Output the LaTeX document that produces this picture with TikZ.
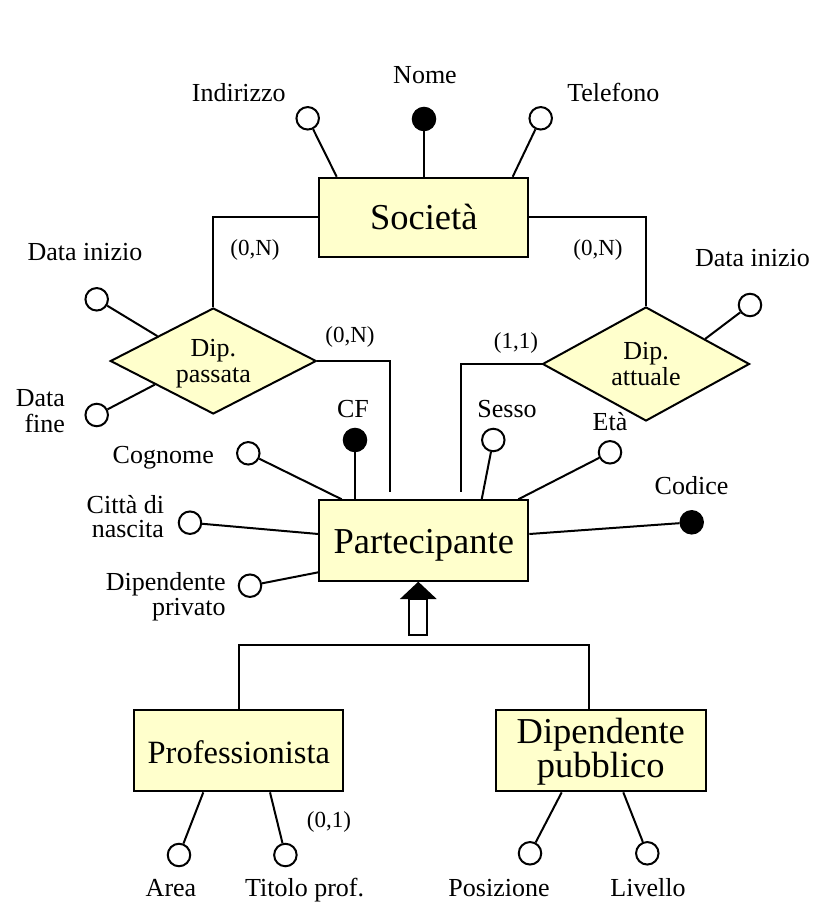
\documentclass[tikz,border=0pt]{standalone}
\usepackage{fontspec}
\setmainfont{Liberation Serif}
\usetikzlibrary{shapes.geometric}
\definecolor{entfill}{RGB}{255,255,204}
\tikzset{
  ent/.style={draw, fill=entfill, rectangle, inner sep=0pt,
    minimum width=209pt, minimum height=79.3pt,
    text height=25pt, text depth=0pt,
    font=\fontsize{36.5}{36.5}\selectfont},
  rel/.style={draw, fill=entfill, diamond, aspect=1.9, inner sep=0pt,
    minimum width=206pt, minimum height=106pt,
    text height=10pt, text depth=20pt,
    font=\fontsize{26}{26}\selectfont},
  attr/.style={draw, fill=white, circle, inner sep=0pt, minimum size=22.5pt},
  keyattr/.style={attr, fill=black},
  lbl/.style={inner sep=0pt, anchor=base, font=\fontsize{26}{24.5}\selectfont},
  card/.style={inner sep=0pt, anchor=base, font=\fontsize{23}{23}\selectfont},
}
\begin{document}
\begin{tikzpicture}[x=1pt,y=-1pt,line width=2pt]
\fill[white] (0,0) rectangle (814,904);
\useasboundingbox (0,0) rectangle (814,904);

% entities
\node[ent] (soc) at (423.8,217.4) {Società};
\node[ent, minimum height=80.4pt] (part) at (423.8,540.5) {Partecipante};
\node[ent, minimum height=81.3pt, font=\fontsize{32.5}{32.5}\selectfont]
  (prof) at (238.8,750.7) {Professionista};
\node[ent, minimum width=209.7pt, minimum height=81.3pt,
  text height=10pt, text depth=24.8pt, font=\fontsize{36.5}{30}\selectfont]
  (dpub) at (600.8,750.7) {\begin{tabular}[t]{@{}c@{}}Dipendente\\pubblico\end{tabular}};

% relationships
\node[rel] (dp) at (213.3,361) {\begin{tabular}[t]{@{}c@{}}Dip.\\passata\end{tabular}};
\node[rel, minimum width=207pt, minimum height=114pt] (da) at (646,364)
  {\begin{tabular}[t]{@{}c@{}}Dip.\\attuale\end{tabular}};

% attribute circles
\node[attr] (ind) at (307.7,118.3) {};
\node[keyattr] (nome) at (424,119) {};
\node[attr] (tel) at (540.7,118.3) {};
\node[attr] (dpi) at (96.7,299.3) {};
\node[attr] (dpf) at (96.7,415) {};
\node[attr] (dai) at (750,305) {};
\node[keyattr] (cf) at (355,440) {};
\node[attr] (cog) at (248.3,453.3) {};
\node[attr] (sesso) at (493.3,440) {};
\node[attr] (eta) at (610,452.3) {};
\node[keyattr] (cod) at (691.7,522.3) {};
\node[attr] (citta) at (190,522.7) {};
\node[attr] (dpriv) at (250,585.7) {};
\node[attr] (area) at (179,855) {};
\node[attr] (titolo) at (285.4,855) {};
\node[attr] (pos) at (530,853.3) {};
\node[attr] (liv) at (647.3,853.3) {};

% attribute names
\node[lbl] (lind) at (238.8,102) {Indirizzo};
\node[lbl] (lnome) at (425,83.5) {Nome};
\node[lbl] (ltel) at (613.3,102) {Telefono};
\node[lbl] (ldpi) at (85,260) {Data inizio};
\node[lbl, anchor=base east] (ldpf) at (66,406.7)
  {\begin{tabular}[t]{@{}r@{}}Data\\fine\end{tabular}};
\node[lbl] (ldai) at (752.5,266) {Data inizio};
\node[lbl] (lcf) at (353,417) {CF};
\node[lbl] (lsesso) at (507,417) {Sesso};
\node[lbl] (leta) at (610,430) {Età};
\node[lbl] (lcog) at (163.3,463) {Cognome};
\node[lbl] (lcod) at (691.5,494) {Codice};
\node[lbl, anchor=base east] (lcitta) at (165,513.3)
  {\begin{tabular}[t]{@{}r@{}}Città di\\nascita\end{tabular}};
\node[lbl, anchor=base east] (ldpriv) at (226.7,590.7)
  {\begin{tabular}[t]{@{}r@{}}Dipendente\\privato\end{tabular}};
\node[lbl] (larea) at (171,896) {Area};
\node[lbl] (ltitolo) at (304.6,896) {Titolo prof.};
\node[lbl] (lpos) at (499,896) {Posizione};
\node[lbl] (lliv) at (648,896) {Livello};

% cardinalities
\node[card] (c1) at (255,255.5) {(0,N)};
\node[card] (c2) at (598,255.5) {(0,N)};
\node[card] (c3) at (350,342) {(0,N)};
\node[card] (c4) at (516,348) {(1,1)};
\node[card] (c5) at (329,827) {(0,1)};

% relationship links
\draw (soc.west) -| (dp.north);
\draw (soc.east) -| (da.north);
\draw (dp.east) -| ([xshift=-33.8pt,yshift=7.6pt]part.north);
\draw (da.west) -| ([xshift=36.9pt,yshift=7.6pt]part.north);

% attribute links
\draw (ind) -- ([xshift=-87.1pt]soc.north);
\draw (nome) -- (nome |- soc.north);
\draw (tel) -- ([xshift=88.9pt]soc.north);
\draw (dpi) -- (dp.156);
\draw (dpf) -- (dp.202);
\draw (dai) -- (da.23);
\draw (cog) -- ([xshift=23.4pt]part.north west);
\draw (cf) -- (cf |- part.north);
\draw (sesso) -- ([xshift=57.9pt]part.north);
\draw (eta) -- ([xshift=94.5pt]part.north);
\draw (cod) -- ([yshift=6.5pt]part.east);
\draw (citta) -- ([yshift=6.5pt]part.west);
\draw (dpriv) -- ([yshift=-31.8pt]part.west);
\draw (area) -- ([xshift=-35.5pt]prof.south);
\draw (titolo) -- ([xshift=31.2pt]prof.south);
\draw (pos) -- ([xshift=-39.1pt]dpub.south);
\draw (liv) -- ([xshift=22.5pt]dpub.south);

% generalization arrow
\coordinate (isatip) at ([xshift=-5.5pt]part.south);
\begin{scope}[shift={(isatip)}]
  \draw[fill=white] (-8.85,17.3) rectangle (8.85,53.3);
  \fill (0,0) -- (18.4,17.3) -- (-18.4,17.3) -- cycle;
\end{scope}

% generalization tree
\coordinate (fork) at (419,645);
\draw (prof.north) |- (fork) -| ([xshift=-12.1pt]dpub.north);
\end{tikzpicture}
\end{document}
